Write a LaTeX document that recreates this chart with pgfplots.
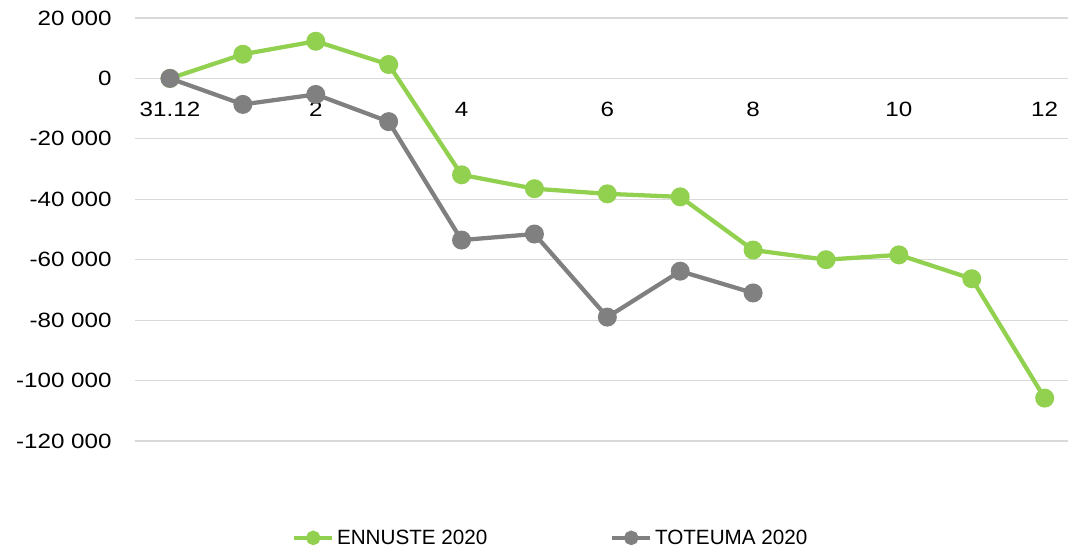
\documentclass[border=0pt]{standalone}
\usepackage{pgfplots}
\pgfplotsset{compat=1.18}
\usepackage{fontspec}
\setmainfont{Liberation Sans}
\newfontfamily\tickfont[FakeStretch=1.17]{Liberation Sans}
\definecolor{ennuste}{HTML}{92D050}
\definecolor{toteuma}{HTML}{808080}
\definecolor{gridc}{HTML}{D9D9D9}

\begin{document}
\begin{tikzpicture}
% grid and y tick labels
\begin{axis}[
    at={(0,0)}, anchor=south west,
    width=699.75pt, height=317.25pt, scale only axis,
    xmin=-0.48, xmax=12.32,
    ymin=-120000, ymax=20000,
    hide x axis,
    axis y line*=left,
    y axis line style={draw=none},
    major tick length=0pt,
    scaled y ticks=false,
    ytick={-120000,-100000,...,20000},
    yticklabels={-120 000,-100 000,-80 000,-60 000,-40 000,-20 000,0,20 000},
    yticklabel style={xshift=-14pt, font=\tickfont\fontsize{15.5}{18}\selectfont},
    ymajorgrids,
    grid style={gridc, line width=0.9pt},
]
\addplot[draw=none] coordinates {(0,0)};
\end{axis}
% data
\begin{axis}[
    at={(0,0)}, anchor=south west,
    width=699.75pt, height=317.25pt, scale only axis,
    xmin=-0.48, xmax=12.32,
    ymin=-120000, ymax=20000,
    axis x line*=middle,
    axis y line=none,
    x axis line style={draw=none},
    xtick={0,2,...,12},
    xticklabels={31.12,2,4,6,8,10,12},
    major tick length=0pt,
    xticklabel style={yshift=-14pt, font=\tickfont\fontsize{15.5}{18}\selectfont},
    legend style={at={(0.446,-0.229)}, anchor=center, draw=none,
        legend columns=2, font=\fontsize{15.5}{18}\selectfont,
        /tikz/every even column/.append style={column sep=90pt}},
    legend image code/.code={
        \draw[#1, mark=none] (0cm,0cm) -- (1cm,0cm);
        \draw[#1, only marks, mark size=3.8pt] plot coordinates {(0.5cm,0cm)};
    },
    clip=false,
]
\addplot[ennuste, line width=3.2pt, mark=*, mark size=5.5pt] coordinates {
(0,0) (1,8000) (2,12300) (3,4600) (4,-31900) (5,-36500) (6,-38200)
(7,-39200) (8,-56800) (9,-60000) (10,-58400) (11,-66300) (12,-105800)};
\addplot[toteuma, line width=3.2pt, mark=*, mark size=5.5pt] coordinates {
(0,0) (1,-8600) (2,-5300) (3,-14300) (4,-53500) (5,-51500) (6,-79000)
(7,-63800) (8,-71000)};
\legend{ENNUSTE 2020, TOTEUMA 2020}
\end{axis}
\pgfresetboundingbox
\path (-101.25pt,-83.25pt) rectangle (699.75pt,330.75pt);
\end{tikzpicture}
\end{document}
